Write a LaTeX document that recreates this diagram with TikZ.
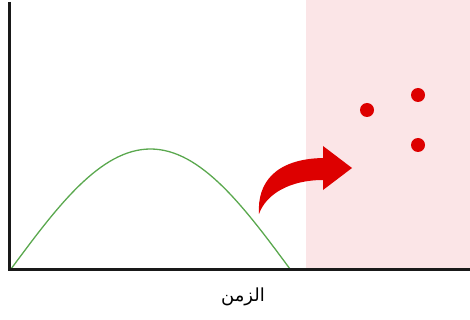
\documentclass[tikz,border=0pt]{standalone}
\usepackage{fontspec}
\newfontfamily\arabicfont[Script=Arabic]{DejaVu Sans}
\TeXXeTstate=1
\definecolor{pinkbg}{HTML}{FBE5E7}
\definecolor{curvegreen}{HTML}{5AA84E}
\definecolor{dotred}{HTML}{DD0000}
\begin{document}
\begin{tikzpicture}[x=1pt,y=-1pt,
  axis/.style={line width=3pt,black!90},
  dot/.style={circle,fill=dotred,minimum size=14pt,inner sep=0pt}]
\useasboundingbox (0,0) rectangle (470,320);
\fill[pinkbg] (306,0) rectangle (470,269);
% curve
\draw[curvegreen,line width=1.3pt] (11,269) sin (150.5,149) cos (290,269);
% axes
\coordinate (top) at (9,2);
\coordinate (origin) at (9,269);
\coordinate (right) at (470,269);
\draw[axis] (top) -- (origin) -- (right);
% dots
\node[dot] (d1) at (367,110) {};
\node[dot] (d2) at (418,95) {};
\node[dot] (d3) at (418,145) {};
% curved arrow
\fill[dotred] (259,214) .. controls (257,183) and (275,159) .. (323,158)
  -- (323,146) -- (352,168) -- (323,190) -- (323,180)
  .. controls (290,180) and (266,194) .. cycle;
% label
\node[font=\arabicfont\fontsize{18}{21}\selectfont] (lbl) at (243,297) {\beginR الزمن\endR};
\end{tikzpicture}
\end{document}
